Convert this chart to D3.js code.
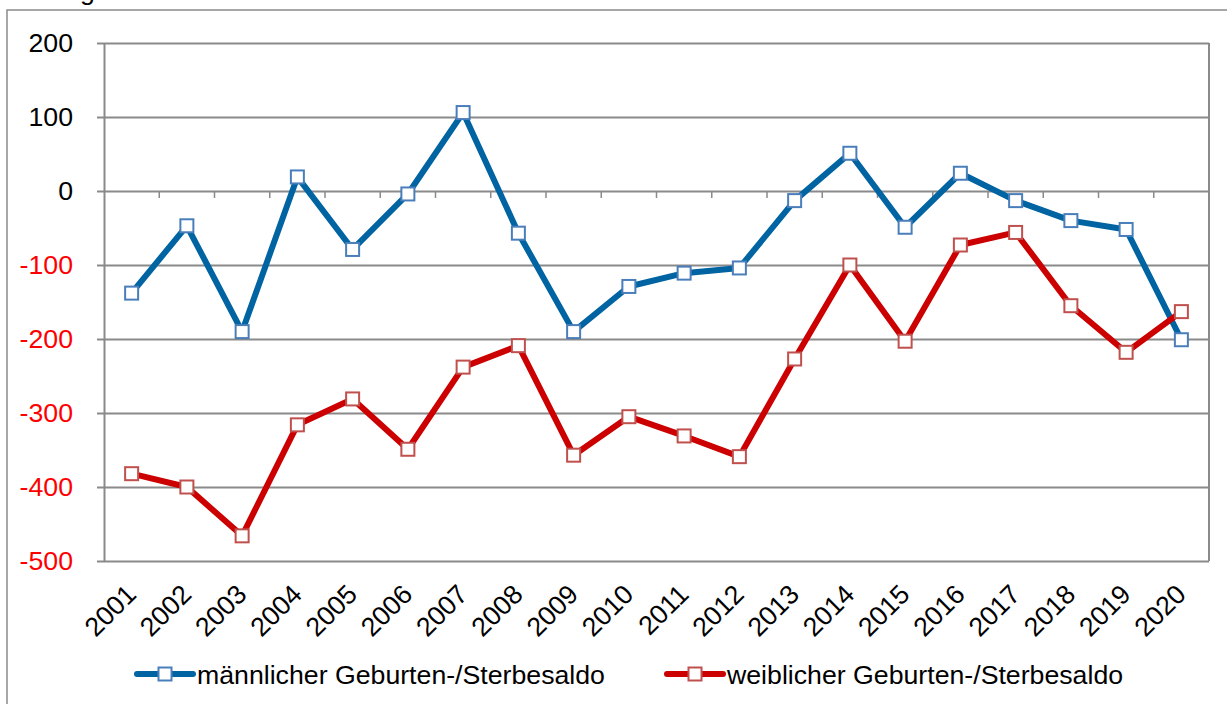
<!DOCTYPE html>
<html>
<head>
<meta charset="utf-8">
<style>
       body {
              margin: 0;
              font-family: "Liberation Sans", Arial, Helvetica;
              background: #fff;
       }
       svg {
              display: block;
       }
       .grid line {
              stroke: #8a8a8a;
              stroke-width: 2;
       }
       .grid path {
              display: none;
       }
       .y-axis text, .x-label, .legend-label {
              font-size: 26.7px;
       }
       .y-axis path, .y-axis line {
              stroke: #8a8a8a;
              stroke-width: 2;
       }
</style>
</head>
<body>
<script src="https://cdn.jsdelivr.net/npm/d3@7"></script>
<script>

     var years = ["2001", "2002", "2003", "2004", "2005", "2006", "2007", "2008", "2009", "2010",
"2011", "2012", "2013", "2014", "2015", "2016", "2017", "2018", "2019", "2020"],
         maleData = [-138, -47, -190, 19, -79, -4, 106, -57, -190, -129, -111, -104, -13, 51,
-49, 24, -13, -40, -52, -201],
         femaleData = [-382, -400, -466, -316, -281, -349, -238, -209, -357, -305, -331, -359,
-227, -100, -203, -73, -56, -155, -218, -163],
         yTicks = [200, 100, 0, -100, -200, -300, -400, -500],
         seriesNames = ["männlicher Geburten-/Sterbesaldo", "weiblicher Geburten-/Sterbesaldo"];

     var width = 1227,
         height = 704,
         plotLeft = 104,
         plotRight = 1209,
         plotTop = 43,
         plotBottom = 561,
         markerSize = 13;

     var colors = [
          {line: "#0064a2", marker: "#4a7ebb"},
          {line: "#cc0000", marker: "#c0504d"}
     ];

     var x = d3.scaleBand()
          .domain(years)
          .range([plotLeft, plotRight]);

     var y = d3.scaleLinear()
          .domain([-500, 200])
          .range([plotBottom, plotTop]);

     var svg = d3.select("body").append("svg")
          .attr("width", width)
          .attr("height", height);

     // title sits above the visible area, only a descender peeks in
     svg.append("text")
          .attr("x", 34)
          .attr("y", -0.5)
          .attr("font-size", 26.7)
          .text("Ausgleich der Geburten und Sterbefälle");

     // outer chart frame, runs past the right and bottom edge
     svg.append("rect")
          .attr("x", 7)
          .attr("y", 10)
          .attr("width", width + 20)
          .attr("height", height + 20)
          .attr("fill", "none")
          .attr("stroke", "#8a8a8a")
          .attr("stroke-width", 1.5);

     // gridlines
     svg.append("g")
          .attr("class", "grid")
          .attr("transform", "translate(" + plotLeft + ",0)")
          .call(d3.axisLeft(y).tickValues(yTicks).tickSize(-(plotRight - plotLeft)).tickFormat(""));

     // right border of plot area
     svg.append("line")
          .attr("x1", plotRight)
          .attr("x2", plotRight)
          .attr("y1", plotTop)
          .attr("y2", plotBottom)
          .attr("stroke", "#8a8a8a")
          .attr("stroke-width", 2);

     // y axis with labels, plain hyphen for negatives
     var yAxis = svg.append("g")
          .attr("class", "y-axis")
          .attr("transform", "translate(" + plotLeft + ",0)")
          .call(d3.axisLeft(y)
               .tickValues(yTicks)
               .tickSize(7)
               .tickPadding(24)
               .tickSizeOuter(0)
               .tickFormat(function(d) { return String(d); }));

     yAxis.selectAll("text")
          .attr("font-family", "\"Liberation Sans\", Arial")
          .attr("fill", function(d) { return d < 0 ? "#ff0000" : "#000"; });

     // category ticks on the zero line
     var boundaries = years.slice(1).map(function(d) { return x(d); }).concat([plotRight]);

     svg.append("g")
          .selectAll("line")
          .data(boundaries)
        .enter().append("line")
          .attr("x1", function(d) { return d; })
          .attr("x2", function(d) { return d; })
          .attr("y1", y(0))
          .attr("y2", y(0) + 7)
          .attr("stroke", "#8a8a8a")
          .attr("stroke-width", 1.5);

     // year labels under the plot
     svg.append("g")
          .selectAll("text")
          .data(years)
        .enter().append("text")
          .attr("class", "x-label")
          .attr("text-anchor", "end")
          .attr("transform", function(d) {
               return "translate(" + (x(d) + x.bandwidth() / 2 + 6) + "," + (plotBottom + 35) + ") rotate(-45)";
          })
          .text(function(d) { return d; });

     // series lines and markers
     var series = [maleData, femaleData];

     var line = d3.line()
          .x(function(d, i) { return x(years[i]) + x.bandwidth() / 2; })
          .y(function(d) { return y(d); });

     series.forEach(function(data, s) {
          svg.append("path")
               .datum(data)
               .attr("d", line)
               .attr("fill", "none")
               .attr("stroke", colors[s].line)
               .attr("stroke-width", 6)
               .attr("stroke-linejoin", "round");

          svg.append("g")
               .selectAll("rect")
               .data(data)
             .enter().append("rect")
               .attr("x", function(d, i) { return x(years[i]) + x.bandwidth() / 2 - markerSize / 2; })
               .attr("y", function(d) { return y(d) - markerSize / 2; })
               .attr("width", markerSize)
               .attr("height", markerSize)
               .attr("fill", "#fff")
               .attr("stroke", colors[s].marker)
               .attr("stroke-width", 2);
     });

     // legend
     var legendX = [137, 667],
         legendY = 674;

     var legend = svg.append("g")
          .selectAll("g")
          .data(seriesNames)
        .enter().append("g")
          .attr("transform", function(d, i) { return "translate(" + legendX[i] + "," + legendY + ")"; });

     legend.append("line")
          .attr("x1", 0)
          .attr("x2", 56)
          .attr("stroke", function(d, i) { return colors[i].line; })
          .attr("stroke-width", 6)
          .attr("stroke-linecap", "round");

     legend.append("rect")
          .attr("x", 28 - markerSize / 2)
          .attr("y", -markerSize / 2)
          .attr("width", markerSize)
          .attr("height", markerSize)
          .attr("fill", "#fff")
          .attr("stroke", function(d, i) { return colors[i].marker; })
          .attr("stroke-width", 2);

     legend.append("text")
          .attr("class", "legend-label")
          .attr("x", 60)
          .attr("y", 9.5)
          .text(function(d) { return d; });

</script>
</body>
</html>
